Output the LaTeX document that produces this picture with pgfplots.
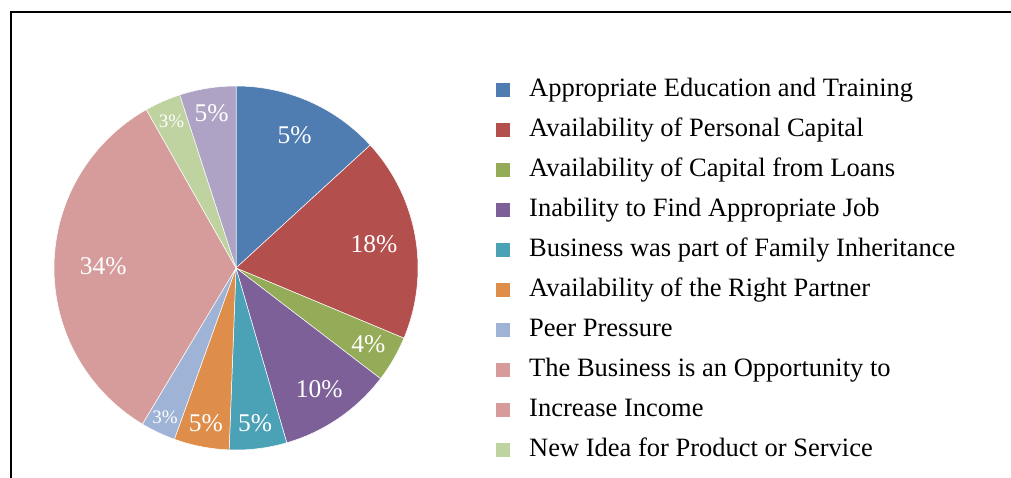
\documentclass[border=0pt]{standalone}
\usepackage{pgfplots}
\pgfplotsset{compat=1.18}
\usepackage{pgfplotstable}
\usepackage{fontspec}
\setmainfont{Liberation Serif}

\definecolor{c0}{RGB}{79,125,177}
\definecolor{c1}{RGB}{179,80,78}
\definecolor{c2}{RGB}{148,172,87}
\definecolor{c3}{RGB}{125,96,152}
\definecolor{c4}{RGB}{75,161,182}
\definecolor{c5}{RGB}{222,142,74}
\definecolor{c6}{RGB}{159,179,215}
\definecolor{c7}{RGB}{213,156,155}
\definecolor{c8}{RGB}{190,211,160}
\definecolor{c9}{RGB}{175,163,197}

% pct = share of the slice, lab = printed label, r/fs = label radius and size
\pgfplotstableread{
pct  lab r    fs
13.2 5   0.80 25.5
18.1 18  0.77 25.5
4.1  4   0.84 25.5
10.1 10  0.81 25.5
5.1  5   0.86 25.5
4.9  5   0.87 25.5
3.1  3   0.91 19
33.2 34  0.73 25.5
3.2  3   0.88 19
5.0  5   0.86 25.5
}\piedata

\gdef\cum{0}
\foreach \i in {0,...,9}{%
  \pgfplotstablegetelem{\i}{pct}\of\piedata \let\p\pgfplotsretval
  \pgfplotstablegetelem{\i}{r}\of\piedata \let\rr\pgfplotsretval
  \pgfplotstablegetelem{\i}{lab}\of\piedata \let\lb\pgfplotsretval
  \pgfplotstablegetelem{\i}{fs}\of\piedata \let\ff\pgfplotsretval
  \pgfmathsetmacro\a{90-3.6*\cum}%
  \pgfmathsetmacro\b{90-3.6*(\cum+\p)}%
  \pgfmathsetmacro\m{(\a+\b)/2}%
  \pgfmathsetmacro\lx{\rr*cos(\m)}%
  \pgfmathsetmacro\ly{\rr*sin(\m)}%
  \pgfmathsetmacro\newcum{\cum+\p}%
  \global\let\cum\newcum
  \expandafter\xdef\csname sA\i\endcsname{\a}%
  \expandafter\xdef\csname sB\i\endcsname{\b}%
  \expandafter\xdef\csname lx\i\endcsname{\lx}%
  \expandafter\xdef\csname ly\i\endcsname{\ly}%
  \expandafter\xdef\csname lab\i\endcsname{\lb}%
  \expandafter\xdef\csname fs\i\endcsname{\ff}%
}

\begin{document}
\begin{tikzpicture}
\useasboundingbox (-54pt,-27pt) rectangle (957pt,450pt);
\draw[line width=2.4pt, line cap=rect] (-43pt,-30pt) -- (-43pt,438pt) -- (960pt,438pt);
\begin{axis}[
  x=182pt, y=182pt,
  xmin=-1, xmax=1, ymin=-1, ymax=1,
  hide axis, clip=false,
  legend style={draw=none, fill=none, at={(1.2143,1.0245)}, anchor=north west,
    inner sep=0pt, outer sep=0pt, font=\fontsize{26.5}{30}\selectfont,
    row sep=15pt, column sep=0pt,
    nodes={inner sep=0pt, text height=19pt, text depth=6pt}},
  legend cell align=left,
  legend image code/.code={\fill[#1, draw=none] (0pt,-7pt) rectangle (14pt,7pt); \path (33pt,0pt);},
]
\pgfplotsinvokeforeach{0,...,9}{%
  \edef\temp{\noexpand\addplot[fill=c#1, draw=white, line width=0.5pt,
    domain=\csname sB#1\endcsname:\csname sA#1\endcsname, samples=80, forget plot]
    ({cos(x)},{sin(x)}) -- (axis cs:0,0) -- cycle;}%
  \temp
}
\pgfplotsinvokeforeach{0,...,9}{%
  \edef\temp{\noexpand\node[text=white, inner sep=0pt,
    font=\noexpand\fontsize{\csname fs#1\endcsname}{\csname fs#1\endcsname}\noexpand\selectfont]
    at (axis cs:\csname lx#1\endcsname,\csname ly#1\endcsname)
    {\csname lab#1\endcsname\noexpand\%};}%
  \temp
}
\addlegendimage{fill=c0}\addlegendentry{Appropriate Education and Training}
\addlegendimage{fill=c1}\addlegendentry{Availability of Personal Capital}
\addlegendimage{fill=c2}\addlegendentry{Availability of Capital from Loans}
\addlegendimage{fill=c3}\addlegendentry{Inability to Find Appropriate Job}
\addlegendimage{fill=c4}\addlegendentry{Business was part of Family Inheritance}
\addlegendimage{fill=c5}\addlegendentry{Availability of the Right Partner}
\addlegendimage{fill=c6}\addlegendentry{Peer Pressure}
\addlegendimage{fill=c7}\addlegendentry{The Business is an Opportunity to}
\addlegendimage{fill=c7}\addlegendentry{Increase Income}
\addlegendimage{fill=c8}\addlegendentry{New Idea for Product or Service}
\end{axis}
\end{tikzpicture}
\end{document}
